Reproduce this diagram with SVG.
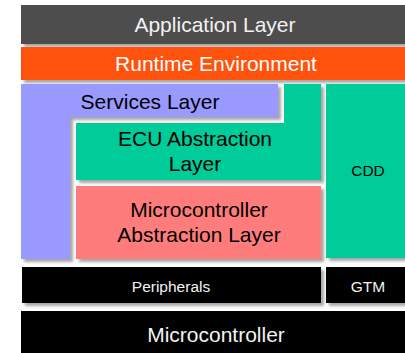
<svg xmlns="http://www.w3.org/2000/svg" width="405" height="353" viewBox="0 0 405 353">
<defs>
<filter id="sh" x="-10%" y="-10%" width="130%" height="140%">
<feDropShadow dx="3" dy="3" stdDeviation="1.8" flood-color="#000" flood-opacity="0.35"/>
</filter>
<style>
.t{font-family:"Liberation Sans",Arial,sans-serif;text-anchor:middle}
.big{font-size:21px}
.sm{font-size:15.5px}
.lt{fill:#f2f2f2}
.dk{fill:#000}
.b{filter:url(#sh)}
</style>
</defs>
<rect width="405" height="353" fill="#fff"/>
<g id="application-layer">
<rect class="b" x="21" y="5" width="390" height="39" fill="#4d4d4d"/>
<text class="t big lt" x="215" y="32">Application Layer</text>
</g>
<g id="runtime-environment">
<rect class="b" x="21" y="47" width="390" height="33" fill="#ff5208"/>
<text class="t big" fill="#fff" x="216" y="71">Runtime Environment</text>
</g>
<g id="services-layer">
<path class="b" d="M21,84 H278 V117 H70 V259 H21 Z" fill="#9999ff"/>
<text class="t big dk" x="150" y="109">Services Layer</text>
</g>
<g id="ecu-abstraction-layer">
<path class="b" d="M284,84 H321 V180 H76 V123 H284 Z" fill="#00cc99"/>
<text class="t big dk" x="195" y="146">ECU Abstraction</text>
<text class="t big dk" x="195" y="171">Layer</text>
</g>
<g id="microcontroller-abstraction-layer">
<rect class="b" x="76" y="186" width="245" height="73" fill="#ff7b7b"/>
<text class="t big dk" x="199" y="217">Microcontroller</text>
<text class="t big dk" x="199" y="242">Abstraction Layer</text>
</g>
<g id="cdd">
<rect class="b" x="326" y="84" width="85" height="174" fill="#00cc99"/>
<text class="t sm dk" x="368" y="176">CDD</text>
</g>
<g id="peripherals">
<rect class="b" x="22" y="267" width="299" height="36" fill="#000"/>
<text class="t sm lt" x="171" y="292">Peripherals</text>
</g>
<g id="gtm">
<rect class="b" x="326" y="267" width="85" height="36" fill="#000"/>
<text class="t sm lt" x="368" y="292">GTM</text>
</g>
<g id="microcontroller">
<rect x="21" y="311" width="390" height="50" fill="#000"/>
<text class="t big lt" x="216" y="342">Microcontroller</text>
</g>
<g id="connectors"/>
</svg>
